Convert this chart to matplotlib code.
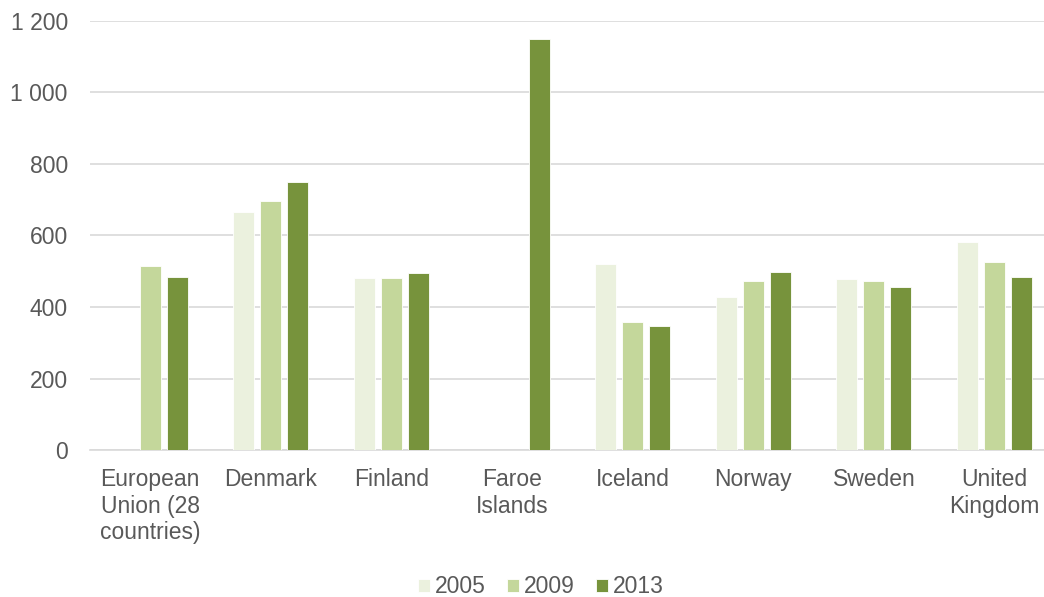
import numpy as np
import matplotlib.pyplot as plt
from matplotlib.ticker import FuncFormatter

plt.rcParams['font.family'] = ['Liberation Sans', 'DejaVu Sans']

countries = ['European\nUnion (28\ncountries)', 'Denmark', 'Finland', 'Faroe\nIslands',
             'Iceland', 'Norway', 'Sweden', 'United\nKingdom']
years = ['2005', '2009', '2013']
v2005 = [np.nan, 666, 482, np.nan, 519, 429, 479, 583]
v2009 = [514, 697, 482, np.nan, 359, 473, 473, 525]
v2013 = [484, 750, 496, 1149, 347, 499, 456, 485]
colors = ['#EBF1DE', '#C4D79B', '#77933C']

txt = '#595959'
fig = plt.figure(figsize=(10.44, 5.97), dpi=100)
ax = fig.add_axes([90/1044, 147/597, 954/1044, 429/597])

x = np.arange(len(countries))
width = 0.174
step = 0.224
for i, (vals, c) in enumerate(zip((v2005, v2009, v2013), colors)):
    ax.bar(x + (i - 1) * step, vals, width, color=c, edgecolor='white',
           linewidth=0.6, label=years[i], zorder=3)

ax.set_ylim(0, 1200)
ax.set_xlim(-0.5, 7.41)
ax.set_yticks(np.arange(0, 1201, 200))
ax.yaxis.set_major_formatter(FuncFormatter(lambda v, p: f"{int(v):,}".replace(',', ' ')))
ax.grid(axis='y', color='#D9D9D9', linewidth=1.2, zorder=0)
ax.set_xticks(x)
ax.set_xticklabels(countries, linespacing=1.2)
ax.tick_params(axis='both', length=0, labelsize=16.5, labelcolor=txt)
ax.tick_params(axis='x', pad=13)
ax.tick_params(axis='y', pad=16)
for s in ('top', 'right', 'left'):
    ax.spines[s].set_visible(False)
ax.spines['bottom'].set_color('#D9D9D9')
ax.spines['bottom'].set_linewidth(1.2)

fig.legend(loc='lower center', bbox_to_anchor=(0.518, -0.037), ncol=3, frameon=False,
           fontsize=16.5, labelcolor=txt, handlelength=0.52, handleheight=0.52,
           handletextpad=0.22, columnspacing=0.92)

fig.savefig('out.png', dpi=100)
